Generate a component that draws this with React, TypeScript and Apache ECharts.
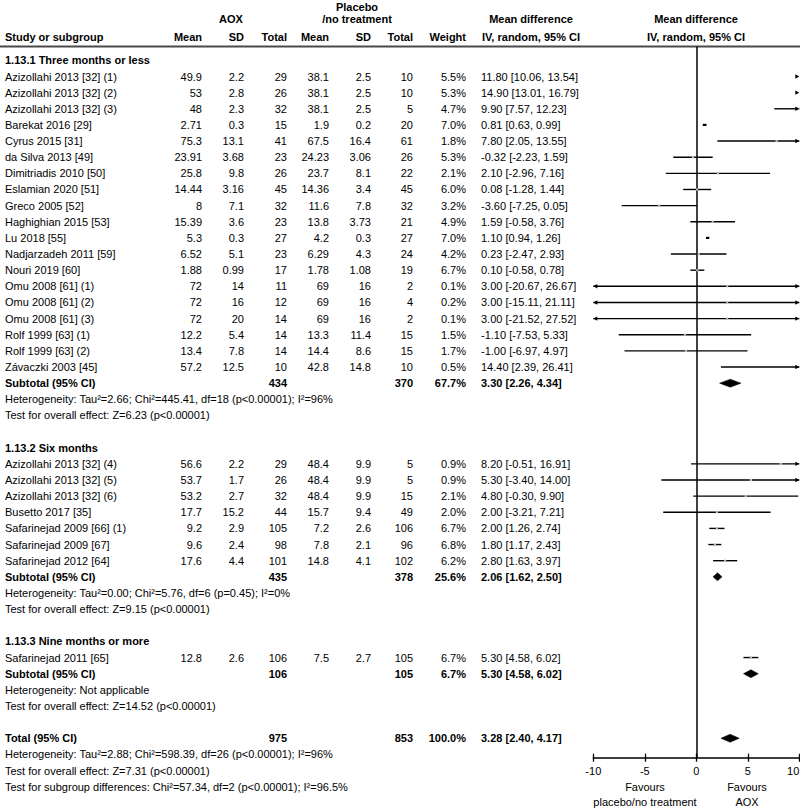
import React, { useEffect, useRef } from "react";
import * as echarts from "echarts";

// ---------- data ----------
const groupTitles = ["1.13.1 Three months or less", "1.13.2 Six months", "1.13.3 Nine months or more"];

const studyNames = [
  "Azizollahi 2013 [32] (1)", "Azizollahi 2013 [32] (2)", "Azizollahi 2013 [32] (3)", "Barekat 2016 [29]",
  "Cyrus 2015 [31]", "da Silva 2013 [49]", "Dimitriadis 2010 [50]", "Eslamian 2020 [51]", "Greco 2005 [52]",
  "Haghighian 2015 [53]", "Lu 2018 [55]", "Nadjarzadeh 2011 [59]", "Nouri 2019 [60]", "Omu 2008 [61] (1)",
  "Omu 2008 [61] (2)", "Omu 2008 [61] (3)", "Rolf 1999 [63] (1)", "Rolf 1999 [63] (2)", "Závaczki 2003 [45]",
  "Azizollahi 2013 [32] (4)", "Azizollahi 2013 [32] (5)", "Azizollahi 2013 [32] (6)", "Busetto 2017 [35]",
  "Safarinejad 2009 [66] (1)", "Safarinejad 2009 [67]", "Safarinejad 2012 [64]",
  "Safarinejad 2011 [65]",
];
const studyGroup = [0,0,0,0,0,0,0,0,0,0,0,0,0,0,0,0,0,0,0, 1,1,1,1,1,1,1, 2];
const aoxMean = [49.9, 53, 48, 2.71, 75.3, 23.91, 25.8, 14.44, 8, 15.39, 5.3, 6.52, 1.88, 72, 72, 72, 12.2, 13.4, 57.2, 56.6, 53.7, 53.2, 17.7, 9.2, 9.6, 17.6, 12.8];
const aoxSD = [2.2, 2.8, 2.3, 0.3, 13.1, 3.68, 9.8, 3.16, 7.1, 3.6, 0.3, 5.1, 0.99, 14, 16, 20, 5.4, 7.8, 12.5, 2.2, 1.7, 2.7, 15.2, 2.9, 2.4, 4.4, 2.6];
const aoxTotal = [29, 26, 32, 15, 41, 23, 26, 45, 32, 23, 27, 23, 17, 11, 12, 14, 14, 14, 10, 29, 26, 32, 44, 105, 98, 101, 106];
const plMean = [38.1, 38.1, 38.1, 1.9, 67.5, 24.23, 23.7, 14.36, 11.6, 13.8, 4.2, 6.29, 1.78, 69, 69, 69, 13.3, 14.4, 42.8, 48.4, 48.4, 48.4, 15.7, 7.2, 7.8, 14.8, 7.5];
const plSD = [2.5, 2.5, 2.5, 0.2, 16.4, 3.06, 8.1, 3.4, 7.8, 3.73, 0.3, 4.3, 1.08, 16, 16, 16, 11.4, 8.6, 14.8, 9.9, 9.9, 9.9, 9.4, 2.6, 2.1, 4.1, 2.7];
const plTotal = [10, 10, 5, 20, 61, 26, 22, 45, 32, 21, 27, 24, 19, 2, 4, 2, 15, 15, 10, 5, 5, 15, 49, 106, 96, 102, 105];
const weights = [5.5, 5.3, 4.7, 7.0, 1.8, 5.3, 2.1, 6.0, 3.2, 4.9, 7.0, 4.2, 6.7, 0.1, 0.2, 0.1, 1.5, 1.7, 0.5, 0.9, 0.9, 2.1, 2.0, 6.7, 6.8, 6.2, 6.7];
const meanDiff = [11.8, 14.9, 9.9, 0.81, 7.8, -0.32, 2.1, 0.08, -3.6, 1.59, 1.1, 0.23, 0.1, 3, 3, 3, -1.1, -1.0, 14.4, 8.2, 5.3, 4.8, 2.0, 2.0, 1.8, 2.8, 5.3];
const ciLow = [10.06, 13.01, 7.57, 0.63, 2.05, -2.23, -2.96, -1.28, -7.25, -0.58, 0.94, -2.47, -0.58, -20.67, -15.11, -21.52, -7.53, -6.97, 2.39, -0.51, -3.4, -0.3, -3.21, 1.26, 1.17, 1.63, 4.58];
const ciHigh = [13.54, 16.79, 12.23, 0.99, 13.55, 1.59, 7.16, 1.44, 0.05, 3.76, 1.26, 2.93, 0.78, 26.67, 21.11, 27.52, 5.33, 4.97, 26.41, 16.91, 14.0, 9.9, 7.21, 2.74, 2.43, 3.97, 6.02];

const subAoxTotal = [434, 435, 106];
const subPlTotal = [370, 378, 105];
const subWeight = [67.7, 25.6, 6.7];
const subMd = [3.3, 2.06, 5.3];
const subLow = [2.26, 1.62, 4.58];
const subHigh = [4.34, 2.5, 6.02];
const subHeterogeneity = [
  "Heterogeneity: Tau²=2.66; Chi²=445.41, df=18 (p<0.00001); I²=96%",
  "Heterogeneity: Tau²=0.00; Chi²=5.76, df=6 (p=0.45); I²=0%",
  "Heterogeneity: Not applicable",
];
const subOverall = [
  "Test for overall effect: Z=6.23 (p<0.00001)",
  "Test for overall effect: Z=9.15 (p<0.00001)",
  "Test for overall effect: Z=14.52 (p<0.00001)",
];

const totalAox = 975;
const totalPl = 853;
const totalWeight = 100.0;
const totalMd = 3.28;
const totalLow = 2.4;
const totalHigh = 4.17;
const totalNotes = [
  "Heterogeneity: Tau²=2.88; Chi²=598.39, df=26 (p<0.00001); I²=96%",
  "Test for overall effect: Z=7.31 (p<0.00001)",
  "Test for subgroup differences: Chi²=57.34, df=2 (p<0.00001); I²=96.5%",
];

const xTicks = [-10, -5, 0, 5, 10];

// ---------- layout constants ----------
const ROW0_Y = 76.5;
const ROW_H = 16.14;
const GRID_TOP = 47;
const AXIS_Y = 757.7;
const HEIGHT = 809;
const Y_MIN = (GRID_TOP - ROW0_Y) / ROW_H;
const Y_MAX = (AXIS_Y - ROW0_Y) / ROW_H;
const FONT = "'Liberation Sans', Arial, Helvetica, sans-serif";

const COL = { study: 5, aoxMean: 202, aoxSD: 244, aoxTotal: 287, plMean: 329, plSD: 371, plTotal: 413, weight: 466, ci: 481 };

type Row = { r: number; kind: string; i?: number; g?: number; text?: string };

function buildRows() {
  const rows: Row[] = [];
  let r = -1;
  for (let g = 0; g < groupTitles.length; g++) {
    rows.push({ r: r++, kind: "title", text: groupTitles[g] });
    studyNames.forEach((_, i) => {
      if (studyGroup[i] === g) rows.push({ r: r++, kind: "study", i });
    });
    rows.push({ r: r++, kind: "subtotal", g });
    rows.push({ r: r++, kind: "note", text: subHeterogeneity[g] });
    rows.push({ r: r++, kind: "note", text: subOverall[g] });
    r++;
  }
  rows.push({ r: r++, kind: "total" });
  totalNotes.forEach((t) => rows.push({ r: r++, kind: "note", text: t }));
  return rows;
}

const fmtCI = (m: number, l: number, h: number) => `${m.toFixed(2)} [${l.toFixed(2)}, ${h.toFixed(2)}]`;

function txt(x: number, y: number, s: string, align: string, bold = false, va = "middle") {
  return {
    type: "text",
    x,
    y,
    style: {
      text: s,
      fill: "#000",
      fontSize: 11,
      fontFamily: FONT,
      fontWeight: bold ? "bold" : "normal",
      align,
      textAlign: align,
      verticalAlign: va,
      textVerticalAlign: va,
    },
  };
}

export default function App() {
  const ref = useRef<HTMLDivElement>(null);
  useEffect(() => {
    document.body.style.margin = "0";
    if (!ref.current) return;
    const chart = echarts.init(ref.current, undefined, { renderer: "svg" });
    const rows = buildRows();

    // plot rows
    const plotData: number[][] = [];
    rows.forEach((row) => {
      if (row.kind === "study") {
        const i = row.i as number;
        plotData.push([meanDiff[i], ciLow[i], ciHigh[i], row.r, 0, weights[i]]);
      } else if (row.kind === "subtotal") {
        const g = row.g as number;
        plotData.push([subMd[g], subLow[g], subHigh[g], row.r, 1, subWeight[g]]);
      } else if (row.kind === "total") {
        plotData.push([totalMd, totalLow, totalHigh, row.r, 1, totalWeight]);
      }
    });

    const headerY1 = 7, headerY2 = 19, headerY3 = 37;
    const graphics: any[] = [
      txt(357, headerY1, "Placebo", "center", true),
      txt(231, headerY2, "AOX", "center", true),
      txt(357, headerY2, "/no treatment", "center", true),
      txt(531, headerY2, "Mean difference", "center", true),
      txt(696, headerY2, "Mean difference", "center", true),
      txt(COL.study, headerY3, "Study or subgroup", "left", true),
      txt(COL.aoxMean, headerY3, "Mean", "right", true),
      txt(COL.aoxSD, headerY3, "SD", "right", true),
      txt(COL.aoxTotal, headerY3, "Total", "right", true),
      txt(COL.plMean, headerY3, "Mean", "right", true),
      txt(COL.plSD, headerY3, "SD", "right", true),
      txt(COL.plTotal, headerY3, "Total", "right", true),
      txt(COL.weight, headerY3, "Weight", "right", true),
      txt(531, headerY3, "IV, random, 95% CI", "center", true),
      txt(696, headerY3, "IV, random, 95% CI", "center", true),
      {
        type: "line",
        shape: { x1: 0, y1: 46.5, x2: 800, y2: 46.5 },
        style: { stroke: "#4a4a4a", lineWidth: 2 },
      },
      txt(645, 787, "Favours", "center"),
      txt(645, 802, "placebo/no treatment", "center"),
      txt(747, 787, "Favours", "center"),
      txt(747, 802, "AOX", "center"),
    ];

    const hiddenAxis = { show: false };

    chart.setOption({
      animation: false,
      grid: [
        { left: 0, right: 0, top: GRID_TOP, bottom: HEIGHT - AXIS_Y, containLabel: false, outerBoundsMode: "none" },
        { left: 593.3, right: 0.7, top: GRID_TOP, bottom: HEIGHT - AXIS_Y, containLabel: false, outerBoundsMode: "none" },
      ],
      xAxis: [
        { type: "value", gridIndex: 0, min: 0, max: 800, ...hiddenAxis },
        {
          type: "value",
          gridIndex: 1,
          min: xTicks[0],
          max: xTicks[xTicks.length - 1],
          interval: 5,
          position: "bottom",
          axisLine: { show: true, onZero: false, lineStyle: { color: "#000", width: 1.5 } },
          axisTick: { show: true, inside: false, length: 4, lineStyle: { color: "#000", width: 1.3 } },
          axisLabel: {
            show: true, color: "#000", fontSize: 11, fontFamily: FONT, margin: 8,
            showMinLabel: true, showMaxLabel: true, alignMaxLabel: "right",
          },
          splitLine: { show: false },
        },
        {
          type: "value",
          gridIndex: 1,
          min: xTicks[0],
          max: xTicks[xTicks.length - 1],
          interval: 5,
          position: "bottom",
          axisLine: { show: false, onZero: false },
          axisTick: { show: true, inside: true, length: 4, lineStyle: { color: "#000", width: 1.3 } },
          axisLabel: { show: false },
          splitLine: { show: false },
        },
      ],
      yAxis: [
        { type: "value", gridIndex: 0, min: Y_MIN, max: Y_MAX, inverse: true, ...hiddenAxis },
        {
          type: "value",
          gridIndex: 1,
          min: Y_MIN,
          max: Y_MAX,
          inverse: true,
          axisLine: { show: true, onZero: true, onZeroAxisIndex: 1, lineStyle: { color: "#000", width: 1.5 } },
          axisTick: { show: false },
          axisLabel: { show: false },
          splitLine: { show: false },
        },
      ],
      series: [
        {
          type: "custom",
          xAxisIndex: 0,
          yAxisIndex: 0,
          clip: false,
          encode: { x: 0, y: 1 },
          data: rows.map((row) => [0, row.r]),
          renderItem: (params: any, api: any) => {
            const row = rows[params.dataIndex];
            const y = api.coord([0, row.r])[1];
            const ch: any[] = [];
            if (row.kind === "title") ch.push(txt(COL.study, y, row.text as string, "left", true));
            else if (row.kind === "note") ch.push(txt(COL.study, y, row.text as string, "left"));
            else if (row.kind === "study") {
              const i = row.i as number;
              ch.push(txt(COL.study, y, studyNames[i], "left"));
              ch.push(txt(COL.aoxMean, y, String(aoxMean[i]), "right"));
              ch.push(txt(COL.aoxSD, y, String(aoxSD[i]), "right"));
              ch.push(txt(COL.aoxTotal, y, String(aoxTotal[i]), "right"));
              ch.push(txt(COL.plMean, y, String(plMean[i]), "right"));
              ch.push(txt(COL.plSD, y, String(plSD[i]), "right"));
              ch.push(txt(COL.plTotal, y, String(plTotal[i]), "right"));
              ch.push(txt(COL.weight, y, weights[i].toFixed(1) + "%", "right"));
              ch.push(txt(COL.ci, y, fmtCI(meanDiff[i], ciLow[i], ciHigh[i]), "left"));
            } else if (row.kind === "subtotal" || row.kind === "total") {
              const isT = row.kind === "total";
              const g = row.g as number;
              ch.push(txt(COL.study, y, isT ? "Total (95% CI)" : "Subtotal (95% CI)", "left", true));
              ch.push(txt(COL.aoxTotal, y, String(isT ? totalAox : subAoxTotal[g]), "right", true));
              ch.push(txt(COL.plTotal, y, String(isT ? totalPl : subPlTotal[g]), "right", true));
              ch.push(txt(COL.weight, y, (isT ? totalWeight : subWeight[g]).toFixed(1) + "%", "right", true));
              ch.push(txt(COL.ci, y, isT ? fmtCI(totalMd, totalLow, totalHigh) : fmtCI(subMd[g], subLow[g], subHigh[g]), "left", true));
            }
            return { type: "group", children: ch };
          },
        },
        {
          type: "custom",
          xAxisIndex: 1,
          yAxisIndex: 1,
          clip: false,
          encode: { x: [0, 1, 2], y: 3 },
          data: plotData,
          renderItem: (params: any, api: any) => {
            const md = api.value(0), lo = api.value(1), hi = api.value(2), r = api.value(3), kind = api.value(4);
            const mn = xTicks[0], mx = xTicks[xTicks.length - 1];
            const clamp = (v: number) => Math.max(mn, Math.min(mx, v));
            const pl = api.coord([clamp(lo), r]);
            const y = pl[1];
            const xl = pl[0];
            const xh = api.coord([clamp(hi), r])[0];
            const xm = api.coord([clamp(md), r])[0];
            const ch: any[] = [];
            if (kind === 1) {
              ch.push({
                type: "polygon",
                shape: { points: [[xl, y], [xm, y - 4], [xh, y], [xm, y + 4]] },
                style: { fill: "#000", stroke: "#000", lineWidth: 0.5 },
              });
            } else {
              const len = xh - xl;
              if (len > 0.5) {
                ch.push({
                  type: "line",
                  shape: { x1: xl, y1: y, x2: xh, y2: y },
                  style: { stroke: "#000", lineWidth: len < 6 ? 2.2 : 1.4 },
                });
              }
              if (md >= mn && md <= mx && len >= 6) {
                ch.push({
                  type: "rect",
                  shape: { x: xm - 1.1, y: y - 1.1, width: 2.2, height: 2.2 },
                  style: { fill: "#bdbdbd" },
                });
              }
              if (lo < mn) {
                ch.push({
                  type: "polygon",
                  shape: { points: [[xl, y], [xl + 4, y - 2.2], [xl + 4, y + 2.2]] },
                  style: { fill: "#000" },
                });
              }
              if (hi > mx) {
                ch.push({
                  type: "polygon",
                  shape: { points: [[xh, y], [xh - 4, y - 2.2], [xh - 4, y + 2.2]] },
                  style: { fill: "#000" },
                });
              }
            }
            return { type: "group", children: ch };
          },
        },
      ],
      graphic: graphics,
    });
    return () => chart.dispose();
  }, []);
  return <div ref={ref} style={{ width: 800, height: 809 }} />;
}
